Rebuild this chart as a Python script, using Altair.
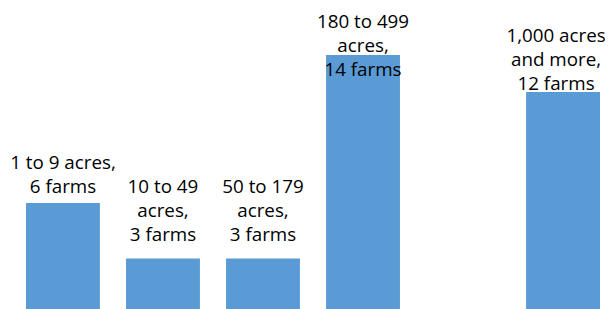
import altair as alt
import pandas as pd

categories = ["1 to 9 acres", "10 to 49 acres", "50 to 179 acres",
              "180 to 499 acres", "500 to 999 acres", "1,000 acres and more"]
farms = [6, 3, 3, 14, 0, 12]
label_lines = [["1 to 9 acres,", "6 farms"],
               ["10 to 49", "acres,", "3 farms"],
               ["50 to 179", "acres,", "3 farms"],
               ["180 to 499", "acres,", "14 farms"],
               [],
               ["1,000 acres", "and more,", "12 farms"]]

LINE_H = 24          # pixel line spacing of the labels
Y_TOP, Y_BASE = 47, 306
Y_MAX = 14
PX_PER_UNIT = (Y_BASE - Y_TOP) / Y_MAX
EDGE_CAT = categories[-1]   # label at the right edge, nudged inwards to stay visible

df = pd.DataFrame({"category": categories, "farms": farms})

rows = []
for cat, val, lines in zip(categories, farms, label_lines):
    n = len(lines)
    for i, line in enumerate(lines):
        rows.append({"category": cat, "farms": val, "line": line,
                     "k": n - 1 - i, "n": n})
lab = pd.DataFrame(rows)

x = alt.X("category:N", sort=categories, axis=None,
          scale=alt.Scale(range=[18, 592], paddingInner=0.261, paddingOuter=0))
y_scale = alt.Scale(domain=[0, Y_MAX], range=[Y_BASE, Y_TOP], nice=False, zero=True)

bars = alt.Chart(df).mark_bar(color="#5B9BD5").encode(
    x=x,
    y=alt.Y("farms:Q", scale=y_scale, axis=None),
)

base_text = alt.Chart(lab).transform_calculate(
    pos=("min(datum.farms + 0.55 + (datum.n - 2) * 0.37, datum.farms * 0.39 + 7.43)"
         f" + datum.k * {LINE_H / PX_PER_UNIT}")
)
text_kw = dict(font="Open Sans", fontSize=18.8, baseline="alphabetic",
               align="center", color="#000000")
enc = dict(x=x, y=alt.Y("pos:Q", scale=y_scale, axis=None), text="line:N")

text_main = base_text.transform_filter(
    alt.datum.category != EDGE_CAT
).mark_text(**text_kw).encode(**enc)

text_edge = base_text.transform_filter(
    alt.datum.category == EDGE_CAT
).mark_text(dx=-7, **text_kw).encode(**enc)

chart = alt.layer(bars, text_main, text_edge).properties(
    width=597, height=301, padding=0, autosize=alt.AutoSizeParams(type="none")
).configure_view(stroke=None)

chart.save("out.html", embed_options={"renderer": "svg", "actions": False})
